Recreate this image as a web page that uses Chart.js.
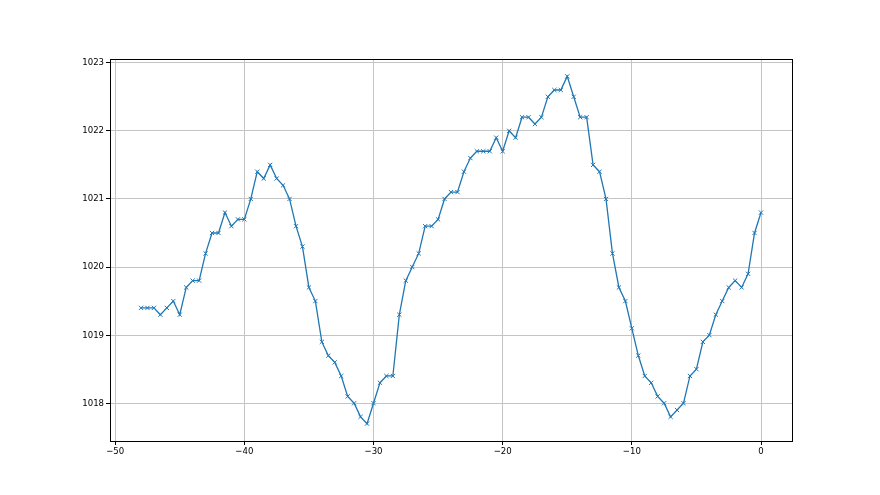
<!DOCTYPE html>
<html>
<head>
<meta charset="UTF-8">
<title>Pressure</title>
<script src="https://cdn.jsdelivr.net/npm/chart.js"></script>
<style>
  body { margin: 0; background: #fff; }
</style>
</head>
<body>
<canvas id="chart" width="880" height="495"></canvas>
<script>
// hours relative to now, step 0.5
const hours = [];
for (let i = 0; i <= 96; i++) hours.push(-48 + i * 0.5);

const pressure = [
  1019.4, 1019.4, 1019.4, 1019.3, 1019.4, 1019.5, 1019.3, 1019.7, 1019.8, 1019.8,
  1020.2, 1020.5, 1020.5, 1020.8, 1020.6, 1020.7, 1020.7, 1021.0, 1021.4, 1021.3,
  1021.5, 1021.3, 1021.2, 1021.0, 1020.6, 1020.3, 1019.7, 1019.5, 1018.9, 1018.7,
  1018.6, 1018.4, 1018.1, 1018.0, 1017.8, 1017.7, 1018.0, 1018.3, 1018.4, 1018.4,
  1019.3, 1019.8, 1020.0, 1020.2, 1020.6, 1020.6, 1020.7, 1021.0, 1021.1, 1021.1,
  1021.4, 1021.6, 1021.7, 1021.7, 1021.7, 1021.9, 1021.7, 1022.0, 1021.9, 1022.2,
  1022.2, 1022.1, 1022.2, 1022.5, 1022.6, 1022.6, 1022.8, 1022.5, 1022.2, 1022.2,
  1021.5, 1021.4, 1021.0, 1020.2, 1019.7, 1019.5, 1019.1, 1018.7, 1018.4, 1018.3,
  1018.1, 1018.0, 1017.8, 1017.9, 1018.0, 1018.4, 1018.5, 1018.9, 1019.0, 1019.3,
  1019.5, 1019.7, 1019.8, 1019.7, 1019.9, 1020.5, 1020.8
];

const xTicks = [-50, -40, -30, -20, -10, 0];
const yTicks = [1018, 1019, 1020, 1021, 1022, 1023];

const points = hours.map((h, i) => ({ x: h, y: pressure[i] }));

// full black frame round the plot area
const frame = {
  id: 'frame',
  afterDraw(chart) {
    const a = chart.chartArea, c = chart.ctx;
    c.save();
    c.strokeStyle = '#000';
    c.lineWidth = 1;
    c.strokeRect(Math.round(a.left) + 0.5, Math.round(a.top) + 0.5,
                 Math.round(a.right - a.left), Math.round(a.bottom - a.top));
    c.restore();
  }
};

const minus = v => String(v).replace('-', '\u2212');
const tickFont = { family: "'Liberation Sans Narrow', 'DejaVu Sans Condensed', 'DejaVu Sans'", size: 9.5 };

new Chart(document.getElementById('chart'), {
  type: 'line',
  data: {
    datasets: [{
      data: points,
      borderColor: '#1f77b4',
      backgroundColor: '#1f77b4',
      borderWidth: 1.3,
      pointStyle: 'crossRot',
      pointRadius: 3,
      pointBorderWidth: 1,
      tension: 0
    }]
  },
  options: {
    responsive: false,
    animation: false,
    layout: { padding: { top: 59, right: 88, left: 0, bottom: 0 } },
    plugins: { legend: { display: false }, tooltip: { enabled: false } },
    scales: {
      x: {
        type: 'linear',
        min: -50.4,
        max: 2.4,
        afterBuildTicks: s => { s.ticks = xTicks.map(v => ({ value: v })); },
        afterFit: s => { s.height = 54; },
        border: { display: false },
        grid: { color: '#c4c4c4', lineWidth: 1, tickLength: 4, tickColor: '#000' },
        ticks: { color: '#000', padding: 1, maxRotation: 0,
                 font: tickFont, callback: minus }
      },
      y: {
        min: 1017.445,
        max: 1023.055,
        afterBuildTicks: s => { s.ticks = yTicks.map(v => ({ value: v })); },
        afterFit: s => { s.width = 110; },
        border: { display: false },
        grid: { color: '#c4c4c4', lineWidth: 1, tickLength: 4, tickColor: '#000' },
        ticks: { color: '#000', padding: 2,
                 font: tickFont, callback: v => String(v) }
      }
    }
  },
  plugins: [frame]
});
</script>
</body>
</html>
